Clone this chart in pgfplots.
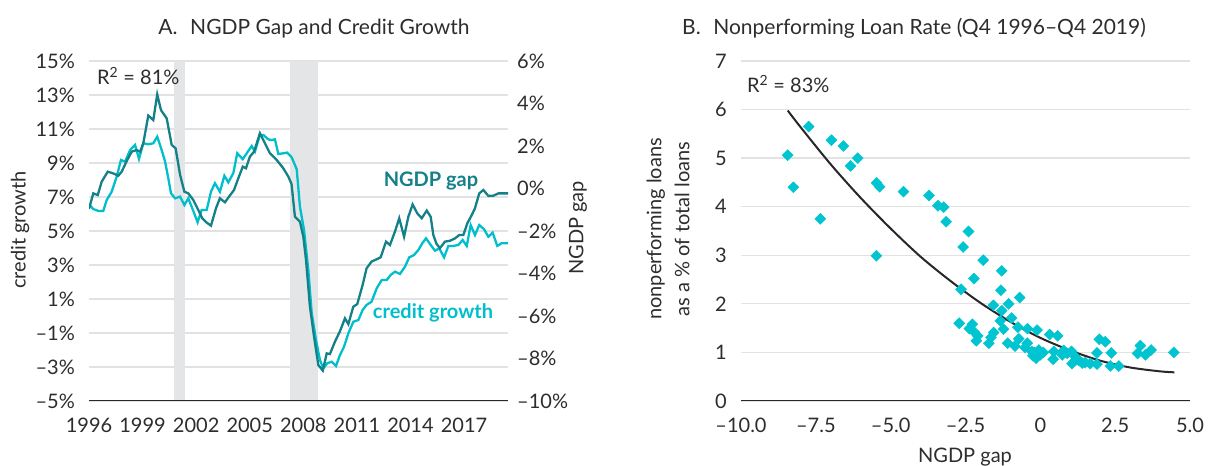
\documentclass[border=0pt]{standalone}
\usepackage{fontspec}
\setmainfont{Lato}
\usepackage{pgfplots}
\pgfplotsset{compat=1.18}
\definecolor{darkt}{RGB}{20,128,136}
\definecolor{lightt}{RGB}{0,190,204}
\definecolor{diam}{RGB}{0,196,208}
\definecolor{recg}{RGB}{228,229,231}
\definecolor{gridc}{RGB}{226,226,226}
\definecolor{txt}{RGB}{45,45,45}
\definecolor{axisc}{RGB}{40,40,40}
\newcommand{\fs}{\fontsize{20bp}{24bp}\selectfont}
\pgfplotsset{
  common/.style={
    scale only axis, anchor=south west,
    axis line style={draw=none},
    major tick length=0pt,
    tick label style={font=\fs, text=txt, inner sep=0pt},
    xticklabel style={anchor=north, yshift=-17bp},
  }
}
\begin{document}
\fs
\begin{tikzpicture}[x=1bp,y=1bp]
\path[use as bounding box] (0,0) rectangle (1208,466);

% ---------------- Panel A ----------------
\begin{axis}[common,
  at={(89bp,65bp)}, width=419bp, height=340bp,
  xmin=1996, xmax=2019.46, ymin=-5, ymax=15,
  xtick={1996,1999,2002,2005,2008,2011,2014,2017},
  xticklabels={1996,1999,2002,2005,2008,2011,2014,2017},
  ytick={-5,-3,-1,1,3,5,7,9,11,13,15},
  yticklabels={–5\%,–3\%,–1\%,1\%,3\%,5\%,7\%,9\%,11\%,13\%,15\%},
  yticklabel style={anchor=east, xshift=-14bp},
  ymajorgrids, grid style={draw=gridc, line width=1.3bp},
]
\addplot[fill=recg, draw=none, forget plot] coordinates {(2000.76,-5) (2001.38,-5) (2001.38,15) (2000.76,15)} -- cycle;
\addplot[fill=recg, draw=none, forget plot] coordinates {(2007.25,-5) (2008.82,-5) (2008.82,15) (2007.25,15)} -- cycle;
\addplot[lightt, line width=2.3bp] coordinates {
(1996.00,6.57)(1996.24,6.29)(1996.52,6.18)(1996.80,6.18)(1996.99,6.82)(1997.27,7.31)(1997.55,8.20)(1997.79,9.18)(1998.02,9.08)(1998.30,9.76)(1998.58,10.06)(1998.80,9.24)(1999.04,10.16)(1999.32,10.10)(1999.60,10.16)(1999.82,10.55)(2000.07,9.76)(2000.26,9.08)(2000.44,8.10)(2000.59,7.22)(2000.82,6.92)(2001.10,7.02)(2001.34,6.53)(2001.56,6.92)(2001.84,6.18)(2002.08,5.51)(2002.31,6.24)(2002.59,6.24)(2002.83,7.31)(2003.05,7.81)(2003.33,7.31)(2003.58,8.25)(2003.80,7.86)(2004.08,8.40)(2004.30,9.57)(2004.61,9.22)(2004.83,9.57)(2005.11,10.00)(2005.29,9.67)(2005.57,10.65)(2005.76,10.65)(2006.04,10.39)(2006.23,10.35)(2006.41,10.39)(2006.60,9.53)(2006.88,9.57)(2007.10,9.61)(2007.35,9.33)(2007.63,8.63)(2007.81,6.43)(2008.04,5.06)(2008.28,2.71)(2008.47,0.16)(2008.71,-1.41)(2008.93,-2.59)(2009.12,-3.08)(2009.34,-2.78)(2009.59,-2.69)(2009.83,-2.94)(2010.05,-2.30)(2010.28,-1.81)(2010.52,-1.02)(2010.80,-0.34)(2011.08,-0.24)(2011.32,0.35)(2011.54,0.65)(2011.82,0.84)(2012.11,1.63)(2012.39,2.12)(2012.67,2.12)(2012.89,2.41)(2013.13,2.61)(2013.41,2.47)(2013.69,2.90)(2013.93,3.45)(2014.20,3.59)(2014.44,3.88)(2014.68,4.31)(2014.87,4.57)(2015.09,4.24)(2015.37,3.84)(2015.61,3.98)(2015.88,3.45)(2016.12,4.12)(2016.40,4.12)(2016.68,4.18)(2016.92,4.47)(2017.15,4.12)(2017.37,5.35)(2017.61,4.76)(2017.85,5.35)(2018.12,5.10)(2018.36,4.66)(2018.60,4.90)(2018.86,4.12)(2019.10,4.28)(2019.46,4.28)
};
\end{axis}

\begin{axis}[common,
  at={(89bp,65bp)}, width=419bp, height=340bp,
  xmin=1996, xmax=2019.46, ymin=-10, ymax=6,
  xtick=\empty,
  ytick={-10,-8,-6,-4,-2,0,2,4,6},
  yticklabels={–10\%,–8\%,–6\%,–4\%,–2\%,0\%,2\%,4\%,6\%},
  yticklabel pos=right,
  yticklabel style={anchor=west, xshift=9bp},
]
\addplot[darkt, line width=2.3bp] coordinates {
(1996.00,-0.96)(1996.24,-0.23)(1996.49,-0.31)(1996.71,0.32)(1997.05,0.79)(1997.36,0.71)(1997.64,0.60)(1997.83,0.79)(1998.11,1.29)(1998.39,1.73)(1998.67,1.81)(1998.86,1.73)(1999.04,2.13)(1999.32,3.43)(1999.60,3.22)(1999.82,4.43)(2000.03,3.69)(2000.35,3.30)(2000.63,2.05)(2000.85,1.89)(2001.10,0.64)(2001.34,-0.15)(2001.56,-0.23)(2001.84,-0.54)(2002.12,-1.01)(2002.34,-1.40)(2002.58,-1.60)(2002.83,-1.75)(2003.11,-0.93)(2003.33,-0.46)(2003.61,-0.65)(2003.89,-0.33)(2004.12,-0.07)(2004.36,0.48)(2004.61,1.03)(2004.79,0.95)(2005.01,1.50)(2005.24,1.73)(2005.57,2.60)(2005.85,2.13)(2006.13,1.66)(2006.51,1.34)(2006.88,0.95)(2007.16,0.56)(2007.34,0.21)(2007.53,-1.33)(2007.81,-1.56)(2008.00,-2.27)(2008.15,-3.36)(2008.37,-5.56)(2008.60,-6.97)(2008.84,-8.31)(2009.09,-8.57)(2009.31,-7.76)(2009.49,-7.79)(2009.77,-7.21)(2010.05,-6.72)(2010.33,-6.11)(2010.52,-6.38)(2010.80,-5.56)(2011.02,-5.44)(2011.32,-4.54)(2011.54,-3.76)(2011.82,-3.44)(2012.11,-3.33)(2012.33,-3.24)(2012.63,-2.50)(2012.85,-2.66)(2013.13,-2.03)(2013.37,-1.40)(2013.64,-2.27)(2013.88,-1.33)(2014.12,-0.75)(2014.38,-1.17)(2014.63,-1.40)(2014.91,-1.04)(2015.13,-1.33)(2015.28,-2.19)(2015.46,-2.61)(2015.65,-2.81)(2015.93,-2.50)(2016.21,-2.46)(2016.49,-2.35)(2016.73,-2.19)(2016.96,-2.19)(2017.18,-1.64)(2017.43,-1.25)(2017.61,-0.93)(2017.85,-0.23)(2018.08,-0.07)(2018.36,-0.35)(2018.64,-0.34)(2018.92,-0.23)(2019.20,-0.23)(2019.46,-0.23)
};
\draw[axisc, line width=2.2bp] (rel axis cs:0,0) -- (rel axis cs:1,0);
\end{axis}

% ---------------- Panel B ----------------
\begin{axis}[common,
  at={(741bp,65bp)}, width=449bp, height=340bp,
  xmin=-10, xmax=5, ymin=0, ymax=7,
  xtick={-10,-7.5,-5,-2.5,0,2.5,5},
  xticklabels={–10.0,–7.5,–5.0,–2.5,0,2.5,5.0},
  ytick={0,1,2,3,4,5,6,7},
  yticklabels={0,1,2,3,4,5,6,7},
  yticklabel style={anchor=east, xshift=-14bp},
  ymajorgrids, grid style={draw=gridc, line width=1.3bp},
]
\addplot[only marks, mark=square*, mark size=3.9bp, color=diam,
  mark options={rotate=45, draw=none, fill=diam}] coordinates {
(-8.44,5.06)(-8.25,4.40)(-7.74,5.65)(-7.35,3.75)(-6.98,5.37)(-6.58,5.25)(-6.34,4.84)(-6.10,5.00)
(-5.47,4.49)(-5.37,4.41)(-5.48,2.99)(-4.57,4.31)(-3.72,4.23)(-3.42,4.02)(-3.23,3.99)(-3.15,3.69)
(-2.40,3.49)(-2.58,3.17)(-1.91,2.90)(-1.29,2.68)(-2.22,2.52)(-1.32,2.28)(-2.65,2.30)(-0.69,2.13)
(-1.57,1.97)(-1.06,2.00)(-1.29,1.86)(-0.96,1.71)(-1.34,1.65)(-2.71,1.60)(-2.27,1.58)(-2.37,1.49)
(-2.21,1.42)(-2.09,1.34)(-2.14,1.24)(-1.23,1.48)(-1.56,1.41)(-1.65,1.31)(-1.72,1.19)(-0.75,1.52)
(-0.43,1.49)(-0.11,1.46)(-0.72,1.28)(-1.09,1.19)(-0.85,1.13)(-0.44,1.19)(-0.51,1.10)(-0.28,1.02)
(-0.11,0.97)(-0.14,0.88)(0.00,0.95)(-0.05,1.05)(-0.20,1.00)(0.10,1.00)(-0.25,0.93)
(0.31,1.37)(0.58,1.34)(0.45,1.02)(0.43,0.86)(0.78,1.04)(0.73,0.95)(0.90,0.98)(1.04,1.02)
(1.17,0.91)(1.06,0.77)(1.20,0.85)(1.30,0.83)(1.40,0.78)(1.50,0.79)(1.67,0.77)(1.89,0.76)
(1.89,0.99)(1.97,1.27)(2.17,1.22)(2.37,0.99)(2.34,0.72)(2.62,0.72)(3.34,1.14)(3.25,0.98)
(3.51,0.95)(3.70,1.05)(4.46,1.00)
};
\addplot[axisc, line width=2bp, smooth] coordinates {
(-8.44,5.98)(-8,5.63)(-7,4.87)(-6,4.18)(-5,3.55)(-4,2.97)(-3,2.47)(-2,2.02)(-1,1.63)(0,1.30)(1,1.04)(2,0.83)(3,0.69)(4,0.61)(4.48,0.59)
};
\draw[axisc, line width=2.2bp] (rel axis cs:0,0) -- (rel axis cs:1,0);
\end{axis}

% ---------------- Text ----------------
\node[anchor=base, text=txt, font=\fontsize{21bp}{25bp}\selectfont] at (314,431) {A.\hspace{0.6em}NGDP Gap and Credit Growth};
\node[anchor=base, text=txt, font=\fontsize{21bp}{25bp}\selectfont] at (914,431) {B.\hspace{0.6em}Nonperforming Loan Rate (Q4 1996–Q4 2019)};
\node[anchor=base west, text=txt, inner sep=0pt] at (97,381) {R\textsuperscript{2} = 81\%};
\node[anchor=base west, text=txt, inner sep=0pt] at (747,373) {R\textsuperscript{2} = 83\%};
\node[anchor=base, text=darkt, inner sep=0pt, font=\fs\bfseries] at (431,279) {NGDP gap};
\node[anchor=base, text=lightt, inner sep=0pt, font=\fs\bfseries] at (433,147) {credit growth};
\node[rotate=90, text=txt, inner sep=0pt] at (20,236) {credit growth};
\node[rotate=90, text=txt, inner sep=0pt] at (578,238) {NGDP gap};
\node[rotate=90, text=txt, inner sep=0pt, align=center, font=\fontsize{20bp}{28bp}\selectfont] at (668,237) {nonperforming loans\\as a \% of total loans};
\node[anchor=base, text=txt, inner sep=0pt] at (965,3) {NGDP gap};
\end{tikzpicture}
\end{document}
